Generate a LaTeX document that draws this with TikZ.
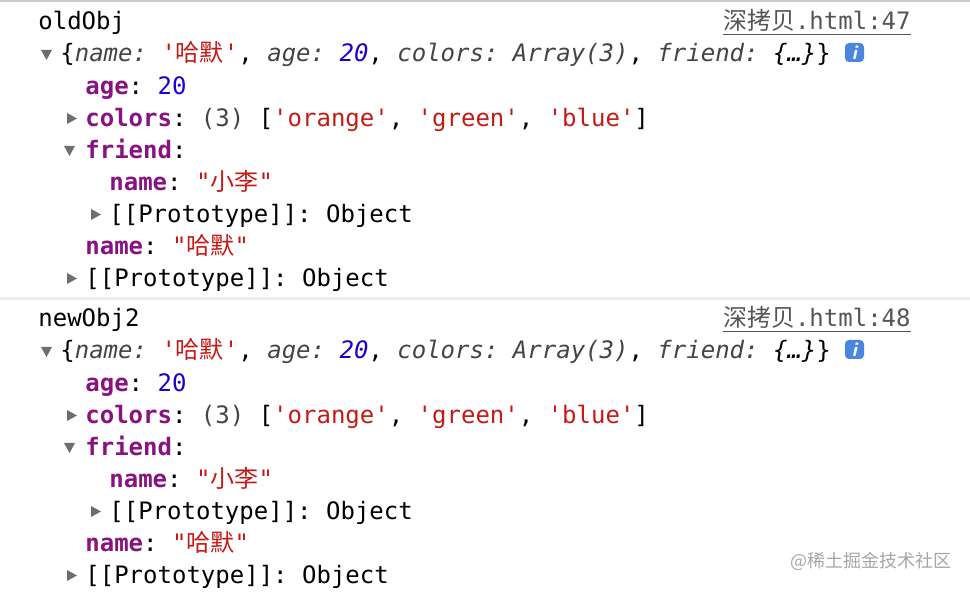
\documentclass[tikz,border=0pt]{standalone}
\usepackage{fontspec}
\setmonofont{DejaVu Sans Mono}
\newfontfamily\cjk{Noto Sans CJK SC}
\newfontfamily\cjkmono{Noto Sans CJK SC}
\definecolor{keyc}{HTML}{881280}
\definecolor{strc}{HTML}{C41A16}
\definecolor{numc}{HTML}{1C00CF}
\definecolor{prevc}{HTML}{444444}
\definecolor{triC}{HTML}{6E6E6E}
\definecolor{linkc}{HTML}{555555}
\definecolor{infoc}{HTML}{4A86E0}
\newcommand{\K}[1]{\textcolor{keyc}{\bfseries #1}}
\newcommand{\Sx}[1]{\textcolor{strc}{#1}}
\newcommand{\N}[1]{\textcolor{numc}{#1}}
\newcommand{\PK}[1]{\textcolor{prevc}{\itshape #1}}
\begin{document}
\begin{tikzpicture}[x=0.5pt,y=-0.5pt,
  t/.style={anchor=base west,inner sep=0pt,font=\ttfamily\fontsize{12}{14}\selectfont},
  down/.style={fill=triC,draw=none},
  link/.style={anchor=base east,inner sep=0pt,font=\ttfamily\fontsize{12}{14}\selectfont,text=linkc},
]
\useasboundingbox (0,0) rectangle (970,592);
\fill[black!20] (0,0) rectangle (970,2);
\fill[black!8] (0,297) rectangle (970,300);
\newcommand{\block}[3]{%
  % #1 = name, #2 = y offset, #3 = line number
  \node[t] (h#3) at (38,30+#2) {#1};
  \node[link] (l#3) at (911,30+#2) {\underline{{\cjk 深拷贝}.html:#3}};
  \fill[triC] (41,50+#2+#2*0) -- (52,50+#2) -- (46.5,60+#2) -- cycle;
  \node[t] (p#3) at (60,62+#2) {\{\PK{name:} \Sx{\itshape'{\cjk 哈默}'}, \PK{age:} \N{\itshape 20}, \PK{colors:} \PK{Array(3)}, \PK{friend:} \textit{\{…\}}\}};
  \fill[infoc,rounded corners=2pt] (845,43+#2) rectangle (864,62+#2);
  \node[text=white,font=\sffamily\bfseries\itshape\fontsize{10}{10}\selectfont,inner sep=0pt] (i#3) at (854.5,52.5+#2) {i};
  \node[t] (a#3) at (85,95+#2) {\K{age}: \N{20}};
  \fill[triC] (67,113+#2) -- (77,118.5+#2) -- (67,124+#2) -- cycle;
  \node[t] (c#3) at (85,127+#2) {\K{colors}: \textcolor{prevc}{(3)} [\Sx{'orange'}, \Sx{'green'}, \Sx{'blue'}]};
  \fill[triC] (64,146+#2) -- (75,146+#2) -- (69.5,156+#2) -- cycle;
  \node[t] (f#3) at (85,159+#2) {\K{friend}:};
  \node[t] (fn#3) at (109,191+#2) {\K{name}: \Sx{"{\cjk 小李}"}};
  \fill[triC] (91,209+#2) -- (101,214.5+#2) -- (91,220+#2) -- cycle;
  \node[t] (fp#3) at (109,223+#2) {[[Prototype]]: Object};
  \node[t] (n#3) at (85,255+#2) {\K{name}: \Sx{"{\cjk 哈默}"}};
  \fill[triC] (67,273+#2) -- (77,278.5+#2) -- (67,284+#2) -- cycle;
  \node[t] (pp#3) at (85,287+#2) {[[Prototype]]: Object};
}
\block{oldObj}{0}{47}
\block{newObj2}{297}{48}
\node[anchor=base east,inner sep=0pt,text=black!35,font=\cjk\fontsize{9}{10}\selectfont] (wm) at (952,568) {@稀土掘金技术社区};
\end{tikzpicture}
\end{document}
